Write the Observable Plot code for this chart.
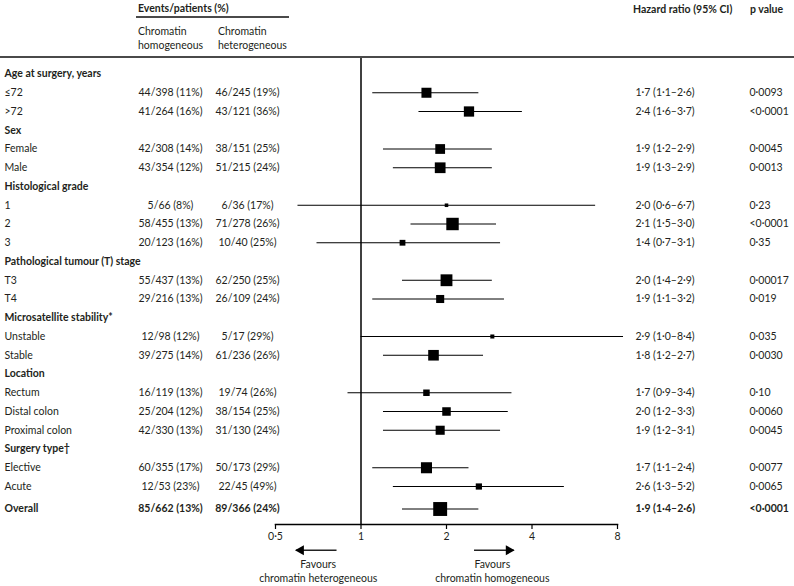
<!DOCTYPE html>
<html>
<head>
<meta charset="utf-8">
<script src="https://cdn.jsdelivr.net/npm/d3@7"></script>
<script src="https://cdn.jsdelivr.net/npm/@observablehq/plot@0.6"></script>
<style>
  html, body { margin: 0; padding: 0; background: #fff; }
  body { font-family: Lato, "Open Sans", sans-serif; color: #231f20; font-size: 10.5px; }
  #wrap { position: relative; width: 794px; height: 586px; overflow: hidden; }
  #head { position: relative; width: 794px; height: 58px; box-sizing: border-box; border-bottom: 2px solid #4a4a4a; }
  #head span { position: absolute; white-space: nowrap; line-height: 14px; }
  #head .b { font-weight: bold; }
  #uline { position: absolute; left: 136px; top: 16px; width: 153px; height: 1.5px; background: #4a4a4a; }
  svg { display: block; }
</style>
</head>
<body>
<div id="wrap">
  <div id="head">
    <span class="b" style="left:138px; top:1px;">Events/patients (%)</span>
    <div id="uline"></div>
    <span style="left:138px; top:24px;">Chromatin<br>homogeneous</span>
    <span style="left:218px; top:24px;">Chromatin<br>heterogeneous</span>
    <span class="b" style="left:633px; top:2px;">Hazard ratio (95% CI)</span>
    <span class="b" style="left:750px; top:2px;">p value</span>
  </div>
  <div id="chart"></div>
</div>
<script>
// ---- data ----
const labels = ["Age at surgery, years", "≤72", ">72", "Sex", "Female", "Male",
  "Histological grade", "1", "2", "3", "Pathological tumour (T) stage", "T3", "T4",
  "Microsatellite stability*", "Unstable", "Stable", "Location", "Rectum", "Distal colon",
  "Proximal colon", "Surgery type†", "Elective", "Acute", "Overall"];
const homEvents   = [null, 44, 41, null, 42, 43, null, 5, 58, 20, null, 55, 29, null, 12, 39, null, 16, 25, 42, null, 60, 12, 85];
const homPatients = [null, 398, 264, null, 308, 354, null, 66, 455, 123, null, 437, 216, null, 98, 275, null, 119, 204, 330, null, 355, 53, 662];
const hetEvents   = [null, 46, 43, null, 38, 51, null, 6, 71, 10, null, 62, 26, null, 5, 61, null, 19, 38, 31, null, 50, 22, 89];
const hetPatients = [null, 245, 121, null, 151, 215, null, 36, 278, 40, null, 250, 109, null, 17, 236, null, 74, 154, 130, null, 173, 45, 366];
const hr   = [null, 1.7, 2.4, null, 1.9, 1.9, null, 2.0, 2.1, 1.4, null, 2.0, 1.9, null, 2.9, 1.8, null, 1.7, 2.0, 1.9, null, 1.7, 2.6, 1.9];
const ciLo = [null, 1.1, 1.6, null, 1.2, 1.3, null, 0.6, 1.5, 0.7, null, 1.4, 1.1, null, 1.0, 1.2, null, 0.9, 1.2, 1.2, null, 1.1, 1.3, 1.4];
const ciHi = [null, 2.6, 3.7, null, 2.9, 2.9, null, 6.7, 3.0, 3.1, null, 2.9, 3.2, null, 8.4, 2.7, null, 3.4, 3.3, 3.1, null, 2.4, 5.2, 2.6];
const pValues = [null, "0·0093", "<0·0001", null, "0·0045", "0·0013", null, "0·23", "<0·0001", "0·35", null, "0·00017", "0·019", null, "0·035", "0·0030", null, "0·10", "0·0060", "0·0045", null, "0·0077", "0·0065", "<0·0001"];
const xTicks = [0.5, 1, 2, 4, 8];
const favoursText = ["Favours\nchromatin heterogeneous", "Favours\nchromatin homogeneous"];
const favoursAt = [0.707, 2.9];
const arrowTail = [0.82, 2.5];
const arrowTip  = [0.59, 3.45];

// ---- derived table ----
const dot = s => String(s).replace(".", "·");
const f1 = v => dot(v.toFixed(1));
const rows = labels.map((label, i) => {
  const heading = hr[i] == null;
  const overall = label === "Overall";
  return {
    label, heading, overall,
    strong: heading || overall,
    row: i + (overall ? 0.2 : 0),
    hom: heading ? null : `${homEvents[i]}/${homPatients[i]} (${Math.round(100 * homEvents[i] / homPatients[i])}%)`,
    het: heading ? null : `${hetEvents[i]}/${hetPatients[i]} (${Math.round(100 * hetEvents[i] / hetPatients[i])}%)`,
    hr: hr[i], lo: ciLo[i], hi: ciHi[i],
    hrText: heading ? null : `${f1(hr[i])} (${f1(ciLo[i])}–${f1(ciHi[i])})`,
    p: pValues[i],
    precision: heading ? null : (2 * 1.96) / (Math.log(ciHi[i]) - Math.log(ciLo[i]))
  };
});
const est = rows.filter(d => !d.heading);
const arrows = arrowTail.map((t, i) => ({tail: t, tip: arrowTip[i], dir: arrowTip[i] < t ? -90 : 90}));
const favours = favoursText.map((t, i) => ({text: t, x: favoursAt[i]}));
const arrowRow = 25.4;

const ink = "#231f20";
const font = "Lato, 'Open Sans', sans-serif";

// table column text marks (normal + bold)
function column(field, anchor, dx, textAnchor) {
  return [false, true].map(strong => Plot.text(rows.filter(d => d.strong === strong && d[field] != null), {
    y: "row", text: field, frameAnchor: anchor, dx, textAnchor, lineAnchor: "middle",
    fontWeight: strong ? "bold" : "normal", fill: ink
  }));
}

const chart = Plot.plot({
  width: 794,
  height: 528,
  marginLeft: 275,
  marginRight: 177,
  marginTop: 0,
  marginBottom: 62,
  style: {fontFamily: font, fontSize: "10.5px", color: ink, background: "#fff", overflow: "visible"},
  x: {type: "log", domain: [0.5, 8], label: null, axis: null},
  y: {domain: [0, 23], range: [15.5, 446.75], axis: null},
  r: {type: "linear", domain: [0, 10], range: [0, 12.4]},
  marks: [
    // axis: line, ticks, labels
    Plot.frame({anchor: "bottom", stroke: "#000", strokeWidth: 1.5}),
    Plot.ruleX(xTicks, {x: d => d, insetTop: 466, insetBottom: -5, stroke: "#000", strokeWidth: 1.2}),
    Plot.text(xTicks, {x: d => d, text: d => dot(d), frameAnchor: "bottom", lineAnchor: "top", dy: 8, fill: ink}),
    Plot.ruleX([1], {stroke: "#000", strokeWidth: 1.5}),
    Plot.ruleY(est, {y: "row", x1: "lo", x2: "hi", stroke: "#000", strokeWidth: 1}),
    Plot.dot(est, {x: "hr", y: "row", r: "precision", symbol: "square", fill: "#000", stroke: null}),
    ...column("label", "left", 4 - 275, "start"),
    ...column("hom", "left", 170 - 275, "middle"),
    ...column("het", "left", 247 - 275, "middle"),
    ...column("hrText", "right", 635 - 617, "start"),
    ...column("p", "right", 749 - 617, "start"),
    // favours annotations
    Plot.link(arrows, {x1: "tail", x2: "tip", y1: arrowRow, y2: arrowRow, stroke: "#222", strokeWidth: 1.6}),
    Plot.dot(arrows.filter(d => d.dir < 0), {x: "tip", y: arrowRow, symbol: "triangle", r: 3.8, rotate: -90, dx: 5, fill: "#000", stroke: null}),
    Plot.dot(arrows.filter(d => d.dir > 0), {x: "tip", y: arrowRow, symbol: "triangle", r: 3.8, rotate: 90, dx: -5, fill: "#000", stroke: null}),
    Plot.text(favours, {x: "x", text: "text", frameAnchor: "bottom", lineAnchor: "middle", dy: 46, lineHeight: 1.33, fill: ink})
  ]
});
document.getElementById("chart").appendChild(chart);
</script>
</body>
</html>
